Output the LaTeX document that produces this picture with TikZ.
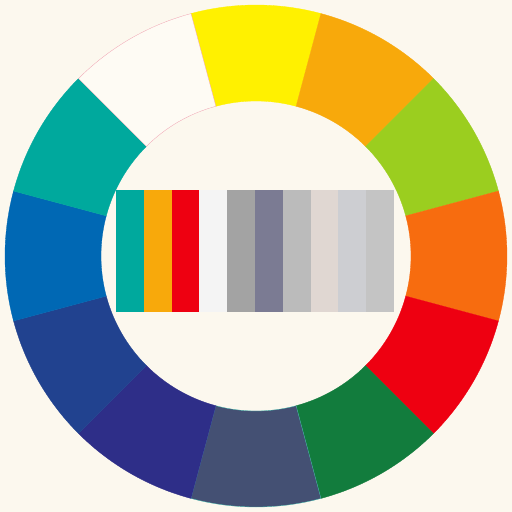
\documentclass[tikz,border=0pt]{standalone}
\definecolor{bg}{HTML}{FCF8EE}
\definecolor{cYellow}{HTML}{FFF100}
\definecolor{cAmber}{HTML}{F8A90B}
\definecolor{cLime}{HTML}{9BCE1F}
\definecolor{cOrange}{HTML}{F76C0F}
\definecolor{cRed}{HTML}{EE0011}
\definecolor{cGreen}{HTML}{127C3D}
\definecolor{cSlate}{HTML}{445073}
\definecolor{cIndigo}{HTML}{2E2E88}
\definecolor{cDarkBlue}{HTML}{21428F}
\definecolor{cBlue}{HTML}{0068B4}
\definecolor{cTeal}{HTML}{00A99D}
\definecolor{cWhite}{HTML}{FEFBF4}
\definecolor{sWhite}{HTML}{F4F4F4}
\definecolor{sGray}{HTML}{A3A3A3}
\definecolor{sSlate}{HTML}{7B7B93}
\definecolor{sLight}{HTML}{BBBBBB}
\definecolor{sPink}{HTML}{E0D7D2}
\definecolor{sBlueGray}{HTML}{CDCED2}
\definecolor{sGray2}{HTML}{C4C4C4}
\definecolor{pinkline}{HTML}{F0A0B0}
\definecolor{tealline}{HTML}{40C0B0}
\tikzset{
  seg/.style={line width=0.3pt},
  bar/.style={draw=none}
}
\newcommand{\wheelseg}[3]{%
  \filldraw[seg,fill=#2,draw=#3] ({#1-15}:155) -- ({#1-15}:251)
    arc[start angle={#1-15}, end angle={#1+15}, radius=251]
    -- ({#1+15}:155)
    arc[start angle={#1+15}, end angle={#1-15}, radius=155] -- cycle;}
\begin{document}
\begin{tikzpicture}[x=1pt,y=1pt]
\fill[bg] (-256,-256) rectangle (256,256);
\useasboundingbox (-256,-256) rectangle (256,256);
\wheelseg{90}{cYellow}{cYellow}
\wheelseg{60}{cAmber}{cAmber}
\wheelseg{30}{cLime}{cLime}
\wheelseg{0}{cOrange}{cOrange}
\wheelseg{-30}{cRed}{cRed}
\wheelseg{-60}{cGreen}{cGreen}
\wheelseg{-90}{cSlate}{tealline}
\wheelseg{-120}{cIndigo}{cIndigo}
\wheelseg{-150}{cDarkBlue}{cDarkBlue}
\wheelseg{180}{cBlue}{cBlue}
\wheelseg{150}{cTeal}{cTeal}
\wheelseg{120}{cWhite}{pinkline}
% strip of bars
\foreach \c [count=\i from 0] in {cTeal,cAmber,cRed,sWhite,sGray,sSlate,sLight,sPink,sBlueGray,sGray2}{
  \fill[bar,fill=\c] ({-140+\i*27.8},{-56}) rectangle ({-140+(\i+1)*27.8},{66});
}
\end{tikzpicture}
\end{document}
